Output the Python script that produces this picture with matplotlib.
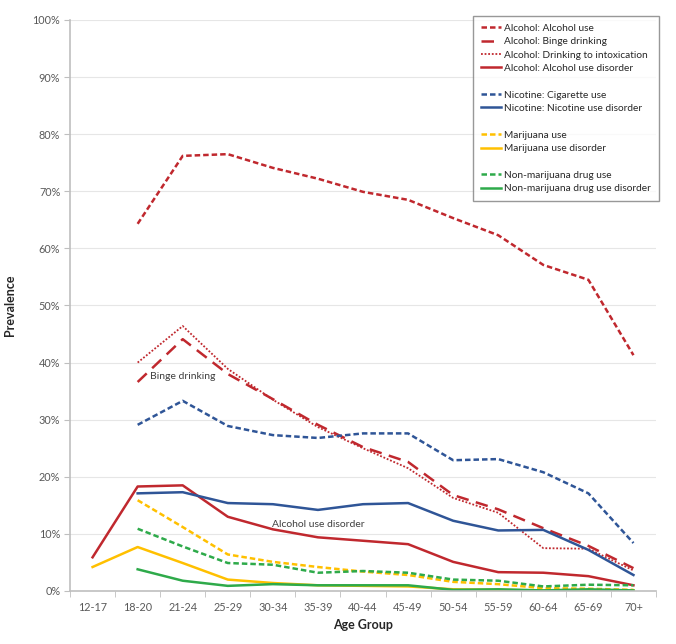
import matplotlib
matplotlib.use("Agg")
import matplotlib.pyplot as plt
from matplotlib.lines import Line2D

plt.rcParams["font.family"] = ["Lato", "DejaVu Sans"]

age_groups = ["12-17", "18-20", "21-24", "25-29", "30-34", "35-39", "40-44",
              "45-49", "50-54", "55-59", "60-64", "65-69", "70+"]

# prevalence in percent; None = no value for that age group
alcohol_use = [None, 64.3, 76.2, 76.5, 74.1, 72.2, 69.9, 68.5, 65.3, 62.3, 57.1, 54.5, 41.3]
binge_drinking = [None, 36.6, 44.1, 38.0, 33.6, 29.1, 25.2, 22.6, 16.8, 14.3, 11.0, 7.9, 4.0]
intoxication = [None, 40.0, 46.4, 38.9, 33.5, 28.7, 25.0, 21.5, 16.3, 13.7, 7.5, 7.4, 3.6]
alcohol_disorder = [5.9, 18.3, 18.5, 13.0, 10.8, 9.4, 8.8, 8.2, 5.1, 3.3, 3.2, 2.6, 1.0]
cigarette_use = [None, 29.1, 33.3, 28.9, 27.3, 26.8, 27.6, 27.6, 22.9, 23.1, 20.8, 17.1, 8.4]
nicotine_disorder = [None, 17.1, 17.3, 15.4, 15.2, 14.2, 15.2, 15.4, 12.3, 10.6, 10.7, 7.2, 2.8]
marijuana_use = [None, 15.9, 11.2, 6.4, 5.1, 4.2, 3.4, 2.8, 1.6, 1.2, 0.5, 0.4, 0.2]
marijuana_disorder = [4.2, 7.7, 4.9, 2.0, 1.4, 1.0, 0.9, 0.8, 0.3, 0.2, 0.1, 0.1, 0.1]
other_drug_use = [None, 10.9, 7.8, 4.9, 4.6, 3.2, 3.5, 3.2, 2.0, 1.8, 0.8, 1.1, 1.0]
other_drug_disorder = [None, 3.8, 1.8, 0.9, 1.2, 1.0, 1.0, 1.0, 0.2, 0.3, 0.1, 0.3, 0.1]

RED = "#C0282E"
BLUE = "#2F5597"
YELLOW = "#FFC000"
GREEN = "#2EAA4A"

short_dash = (0, (2.2, 1.2))
long_dash = (0, (5, 3))
dots = (0, (1, 1))

series = [
    ("Alcohol: Alcohol use", alcohol_use, RED, short_dash),
    ("Alcohol: Binge drinking", binge_drinking, RED, long_dash),
    ("Alcohol: Drinking to intoxication", intoxication, RED, dots),
    ("Alcohol: Alcohol use disorder", alcohol_disorder, RED, "-"),
    (None, None, None, None),
    ("Nicotine: Cigarette use", cigarette_use, BLUE, short_dash),
    ("Nicotine: Nicotine use disorder", nicotine_disorder, BLUE, "-"),
    (None, None, None, None),
    ("Marijuana use", marijuana_use, YELLOW, short_dash),
    ("Marijuana use disorder", marijuana_disorder, YELLOW, "-"),
    (None, None, None, None),
    ("Non-marijuana drug use", other_drug_use, GREEN, short_dash),
    ("Non-marijuana drug use disorder", other_drug_disorder, GREEN, "-"),
]

fig = plt.figure(figsize=(6.76, 6.44), dpi=100)
ax = fig.add_axes([0.1036, 0.0823, 0.8668, 0.8867])

x = list(range(len(age_groups)))
handles, labels = [], []
for label, vals, color, ls in series:
    if label is None:
        # blank row to separate legend groups
        handles.append(Line2D([], [], color="none"))
        labels.append(" ")
        continue
    xs = [i for i, v in zip(x, vals) if v is not None]
    ys = [v / 100 for v in vals if v is not None]
    lw = 1.3 if ls == dots else 1.8
    line, = ax.plot(xs, ys, color=color, linestyle=ls, linewidth=lw)
    handles.append(line)
    labels.append(label)

ax.set_xlim(-0.5, len(age_groups) - 0.5)
ax.set_ylim(0, 1.0)
ax.set_yticks([i / 10 for i in range(11)])
ax.set_yticklabels([f"{i * 10}%" for i in range(11)])
ax.set_xticks(x)
ax.set_xticklabels(age_groups)
ax.set_xticks([i + 0.5 for i in range(-1, len(age_groups))], minor=True)
ax.tick_params(axis="x", which="major", length=0, pad=8, labelsize=7.8, labelcolor="#595959")
ax.tick_params(axis="x", which="minor", length=4, color="#BFBFBF", direction="out")
ax.tick_params(axis="y", length=4, color="#BFBFBF", labelsize=7.8, labelcolor="#595959", pad=3)

ax.grid(axis="y", color="#E6E6E6", linewidth=0.8)
ax.set_axisbelow(True)
for side in ("top", "right"):
    ax.spines[side].set_visible(False)
for side in ("left", "bottom"):
    ax.spines[side].set_color("#BFBFBF")
    ax.spines[side].set_linewidth(1.2)

ax.set_xlabel("Age Group", fontsize=9, fontweight="bold", color="#262626", labelpad=4)
ax.set_ylabel("Prevalence", fontsize=9, fontweight="bold", color="#262626", labelpad=12)

ax.text(1.28, 0.375, "Binge drinking", fontsize=7.5, color="#404040", va="center")
ax.text(3.98, 0.116, "Alcohol use disorder", fontsize=7.5, color="#404040", va="center")

leg = ax.legend(handles, labels, loc="upper right", bbox_to_anchor=(1.01, 1.012),
                fontsize=7.3, frameon=True, fancybox=False, edgecolor="#7F7F7F",
                handlelength=2.0, handletextpad=0.3, labelspacing=0.42,
                borderpad=0.75, borderaxespad=0.3)
leg.get_frame().set_linewidth(1.0)
for t in leg.get_texts():
    t.set_color("#262626")

fig.savefig("out.png", dpi=100)
